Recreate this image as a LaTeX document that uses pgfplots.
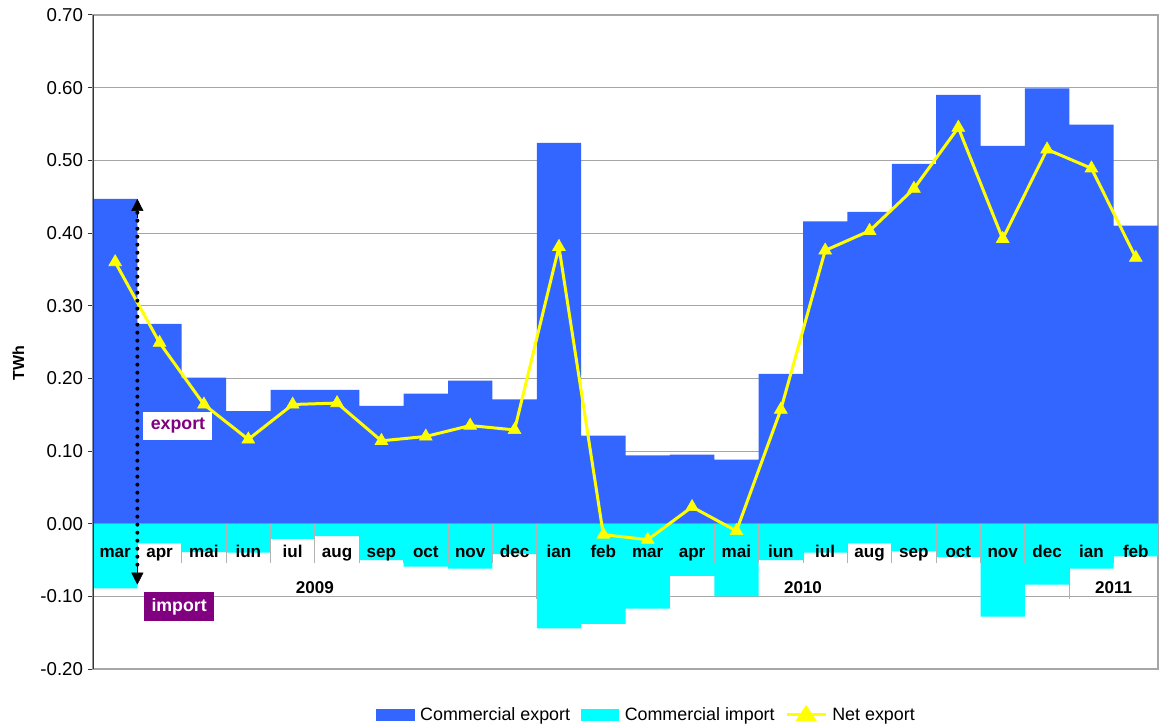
\documentclass[border=0pt]{standalone}
\usepackage{pgfplots}
\usepackage{pgfplotstable}
\pgfplotsset{compat=1.18}
\usetikzlibrary{arrows.meta}
\usepackage{fontspec}
\setmainfont{Liberation Sans}

\definecolor{expblue}{HTML}{3366FF}
\definecolor{impcyan}{HTML}{00FFFF}
\definecolor{netyellow}{HTML}{FFFF00}
\definecolor{lblpurple}{HTML}{800080}

% monthly values, TWh (mar 2009 .. feb 2011)
\pgfplotstableread{
idx exp imp net
0  0.447 -0.089  0.360
1  0.275 -0.027  0.249
2  0.201 -0.039  0.164
3  0.155 -0.040  0.116
4  0.184 -0.021  0.164
5  0.184 -0.017  0.166
6  0.162 -0.050  0.114
7  0.179 -0.059  0.120
8  0.197 -0.062  0.135
9  0.171 -0.042  0.129
10 0.524 -0.144  0.381
11 0.121 -0.138 -0.015
12 0.094 -0.117 -0.022
13 0.095 -0.072  0.023
14 0.088 -0.100 -0.010
15 0.206 -0.050  0.157
16 0.416 -0.040  0.376
17 0.429 -0.027  0.403
18 0.495 -0.038  0.461
19 0.590 -0.046  0.545
20 0.520 -0.128  0.392
21 0.599 -0.084  0.515
22 0.549 -0.062  0.489
23 0.410 -0.045  0.366
}\mydata

\newcommand\lblfont{\bfseries\fontsize{12.8}{15}\selectfont}
\newcommand\mlab[2]{\node[font=\lblfont, anchor=base, inner sep=0pt] at (axis cs:#1,-0.0465) {\strut #2};}

\begin{document}
\begin{tikzpicture}
\useasboundingbox (-69.75pt,-42.75pt) rectangle (799.5pt,501.75pt);
\begin{axis}[
    width=798.75pt, height=490.5pt, scale only axis,
    xmin=-0.5, xmax=23.5, ymin=-0.2, ymax=0.7,
    ytick={-0.2,-0.1,0,0.1,0.2,0.3,0.4,0.5,0.6,0.7},
    xtick=\empty,
    yticklabel style={font=\fontsize{14}{16}\selectfont},
    /pgf/number format/.cd, fixed, fixed zerofill, precision=2, assume math mode=true,
    /pgfplots/.cd,
    ytick style={black!80, line width=0.75pt},
    tick align=outside, tick pos=left, major tick length=4pt,
    ymajorgrids, grid style={gray!70, line width=0.75pt},
    axis line style={gray!70, line width=1pt},
    ylabel={TWh},
    every axis y label/.style={at={(axis description cs:0,0.468)}, xshift=-56pt,
        rotate=90, anchor=center, font=\bfseries\fontsize{12}{14}\selectfont},
    legend columns=3,
    legend style={draw=none, at={(0.52,-0.0703)}, anchor=center,
        font=\fontsize{13.4}{15}\selectfont, inner sep=0pt,
        /tikz/every odd column/.append style={column sep=2pt},
        /tikz/every even column/.append style={column sep=6pt}},
]
\addplot[ybar, bar width=1, bar shift=0pt, fill=expblue, draw=none,
    legend image code/.code={\fill[expblue] (0pt,-4.5pt) rectangle (29pt,4.5pt);}]
    table[x=idx, y=exp] {\mydata};
\addlegendentry{Commercial export}
\addplot[ybar, bar width=1, bar shift=0pt, fill=impcyan, draw=none,
    legend image code/.code={\fill[impcyan] (0pt,-4.5pt) rectangle (29pt,4.5pt);}]
    table[x=idx, y=imp] {\mydata};
\addlegendentry{Commercial import}

% category separators and labels
\pgfplotsinvokeforeach{0.5,1.5,...,22.5}{
  \draw[gray!60, line width=0.75pt] (axis cs:#1,0) -- (axis cs:#1,-0.054);
}
\draw[gray!60, line width=0.75pt] (axis cs:9.5,0) -- (axis cs:9.5,-0.104);
\draw[gray!60, line width=0.75pt] (axis cs:21.5,0) -- (axis cs:21.5,-0.104);
\mlab{0}{mar}\mlab{1}{apr}\mlab{2}{mai}\mlab{3}{iun}\mlab{4}{iul}\mlab{5}{aug}
\mlab{6}{sep}\mlab{7}{oct}\mlab{8}{nov}\mlab{9}{dec}\mlab{10}{ian}\mlab{11}{feb}
\mlab{12}{mar}\mlab{13}{apr}\mlab{14}{mai}\mlab{15}{iun}\mlab{16}{iul}\mlab{17}{aug}
\mlab{18}{sep}\mlab{19}{oct}\mlab{20}{nov}\mlab{21}{dec}\mlab{22}{ian}\mlab{23}{feb}
\node[font=\lblfont] at (axis cs:4.5,-0.088) {2009};
\node[font=\lblfont] at (axis cs:15.5,-0.088) {2010};
\node[font=\lblfont] at (axis cs:22.5,-0.088) {2011};

\addplot[netyellow, line width=2.25pt, mark=triangle*, mark size=5.5pt,
    mark options={solid, fill=netyellow, draw=netyellow, line width=0.5pt},
    legend image code/.code={\draw[netyellow, line width=2.25pt] (0pt,0pt) -- (29pt,0pt);
      \fill[netyellow] (14.5pt,5.5pt) -- (8.5pt,-3.5pt) -- (20.5pt,-3.5pt) -- cycle;}]
    table[x=idx, y=net] {\mydata};
\addlegendentry{Net export}

\draw[black!80, line width=1pt] (rel axis cs:0,0) -- (rel axis cs:0,1);

% export / import annotation
\draw[line width=3pt, line cap=round, dash pattern=on 0pt off 6pt]
    (axis cs:0.5,0.428) -- (axis cs:0.5,-0.064);
\draw[line width=0.4pt, -{Triangle[length=9pt,width=9pt]}]
    (axis cs:0.5,0.42) -- (axis cs:0.5,0.447);
\draw[line width=0.4pt, -{Triangle[length=9pt,width=9pt]}]
    (axis cs:0.5,-0.058) -- (axis cs:0.5,-0.084);
\node[fill=white, text=lblpurple, font=\bfseries\fontsize{13.3}{15}\selectfont,
    minimum width=51.75pt, minimum height=21pt, inner sep=0pt] at (axis cs:1.415,0.135) {export};
\node[fill=lblpurple, text=white, font=\bfseries\fontsize{13.3}{15}\selectfont,
    minimum width=52.5pt, minimum height=21.75pt, inner sep=0pt] at (axis cs:1.44,-0.114) {import};
\end{axis}
\end{tikzpicture}
\end{document}
